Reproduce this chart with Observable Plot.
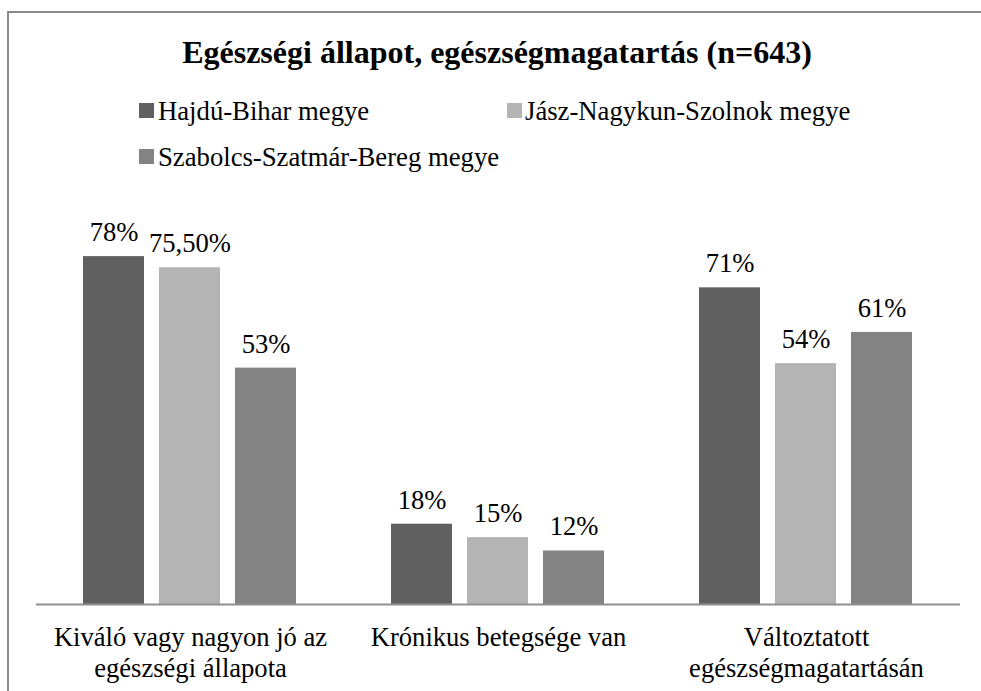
<!DOCTYPE html>
<html>
<head>
<meta charset="utf-8">
<script src="https://cdn.jsdelivr.net/npm/d3@7"></script>
<script src="https://cdn.jsdelivr.net/npm/@observablehq/plot@0.6"></script>
<style>
  html, body { margin: 0; padding: 0; background: #fff; }
  #wrap { position: relative; width: 981px; height: 691px; overflow: hidden; background: #fff;
          font-family: "Liberation Serif", "Times New Roman", serif; color: #000; }
  #frame { position: absolute; left: 7px; top: 11px; width: 1200px; height: 1200px;
           border-left: 2px solid #8a8a8a; border-top: 2px solid #8a8a8a; box-sizing: border-box; }
  #title { position: absolute; left: 0; top: 32px; width: 994px; text-align: center;
           font-size: 32px; font-weight: bold; line-height: 40px; white-space: nowrap; }
  .leg { position: absolute; font-size: 26.7px; line-height: 30px; white-space: nowrap; }
  .sw { position: absolute; width: 15px; height: 15px; }
  #chart { position: absolute; left: 0; top: 180px; }
</style>
</head>
<body>
<div id="wrap">
  <div id="frame"></div>
  <div id="title"></div>
  <div id="legend"></div>
  <div id="chart"></div>
</div>
<script>
const title = "Egészségi állapot, egészségmagatartás (n=643)";
const categories = ["Kiváló vagy nagyon jó az egészségi állapota", "Krónikus betegsége van", "Változtatott egészségmagatartásán"];
const tickLabels = ["Kiváló vagy nagyon jó az\negészségi állapota", "Krónikus betegsége van", "Változtatott\negészségmagatartásán"];
const series = ["Hajdú-Bihar megye", "Jász-Nagykun-Szolnok megye", "Szabolcs-Szatmár-Bereg megye"];
const colors = ["#606060", "#b4b4b4", "#838383"];
const hajduBihar = [78, 18, 71];
const jaszNagykun = [75.5, 15, 54];
const szabolcs = [53, 12, 61];
const hajduBiharLabels = ["78%", "18%", "71%"];
const jaszNagykunLabels = ["75,50%", "15%", "54%"];
const szabolcsLabels = ["53%", "12%", "61%"];

const seriesValues = [hajduBihar, jaszNagykun, szabolcs];
const seriesLabels = [hajduBiharLabels, jaszNagykunLabels, szabolcsLabels];
const data = [];
categories.forEach((c, i) => {
  series.forEach((s, j) => {
    data.push({cat: c, series: s, value: seriesValues[j][i], label: seriesLabels[j][i]});
  });
});
const tickMap = new Map(categories.map((c, i) => [c, tickLabels[i]]));

document.getElementById("title").textContent = title;

// legend
const legendPos = [
  {sx: 139, sy: 103, tx: 158, ty: 96},
  {sx: 507, sy: 103, tx: 525, ty: 96},
  {sx: 139, sy: 149, tx: 158, ty: 142}
];
const legend = document.getElementById("legend");
series.forEach((s, j) => {
  const p = legendPos[j];
  const sw = document.createElement("div");
  sw.className = "sw";
  sw.style.left = p.sx + "px"; sw.style.top = p.sy + "px"; sw.style.background = colors[j];
  legend.appendChild(sw);
  const t = document.createElement("div");
  t.className = "leg";
  t.style.left = p.tx + "px"; t.style.top = p.ty + "px";
  t.textContent = s;
  legend.appendChild(t);
});

const chart = Plot.plot({
  width: 981,
  height: 511,
  marginLeft: 35,
  marginRight: 20,
  marginTop: 22.6,
  marginBottom: 87,
  style: {fontFamily: "'Liberation Serif', 'Times New Roman', serif", fontSize: "26.6px", color: "#000", background: "transparent", overflow: "visible"},
  fx: {domain: categories, padding: 0, label: null, axis: null},
  x: {domain: series, paddingInner: 0.195, paddingOuter: 0.6, axis: null},
  y: {domain: [0, 90], axis: null},
  color: {domain: series, range: colors},
  marks: [
    Plot.barY(data, {fx: "cat", x: "series", y: "value", fill: "series"}),
    Plot.ruleY([0], {stroke: "#8f8f8f", strokeWidth: 2}),
    Plot.text(data, {fx: "cat", x: "series", y: "value", text: "label", dy: -24, fontSize: 26.6, fill: "#000"}),
    Plot.axisFx({anchor: "bottom", tickSize: 0, tickPadding: 19, fontSize: 26.6, lineHeight: 1.17, fill: "#000",
                 tickFormat: d => tickMap.get(d), label: null})
  ]
});
document.getElementById("chart").appendChild(chart);
</script>
</body>
</html>
